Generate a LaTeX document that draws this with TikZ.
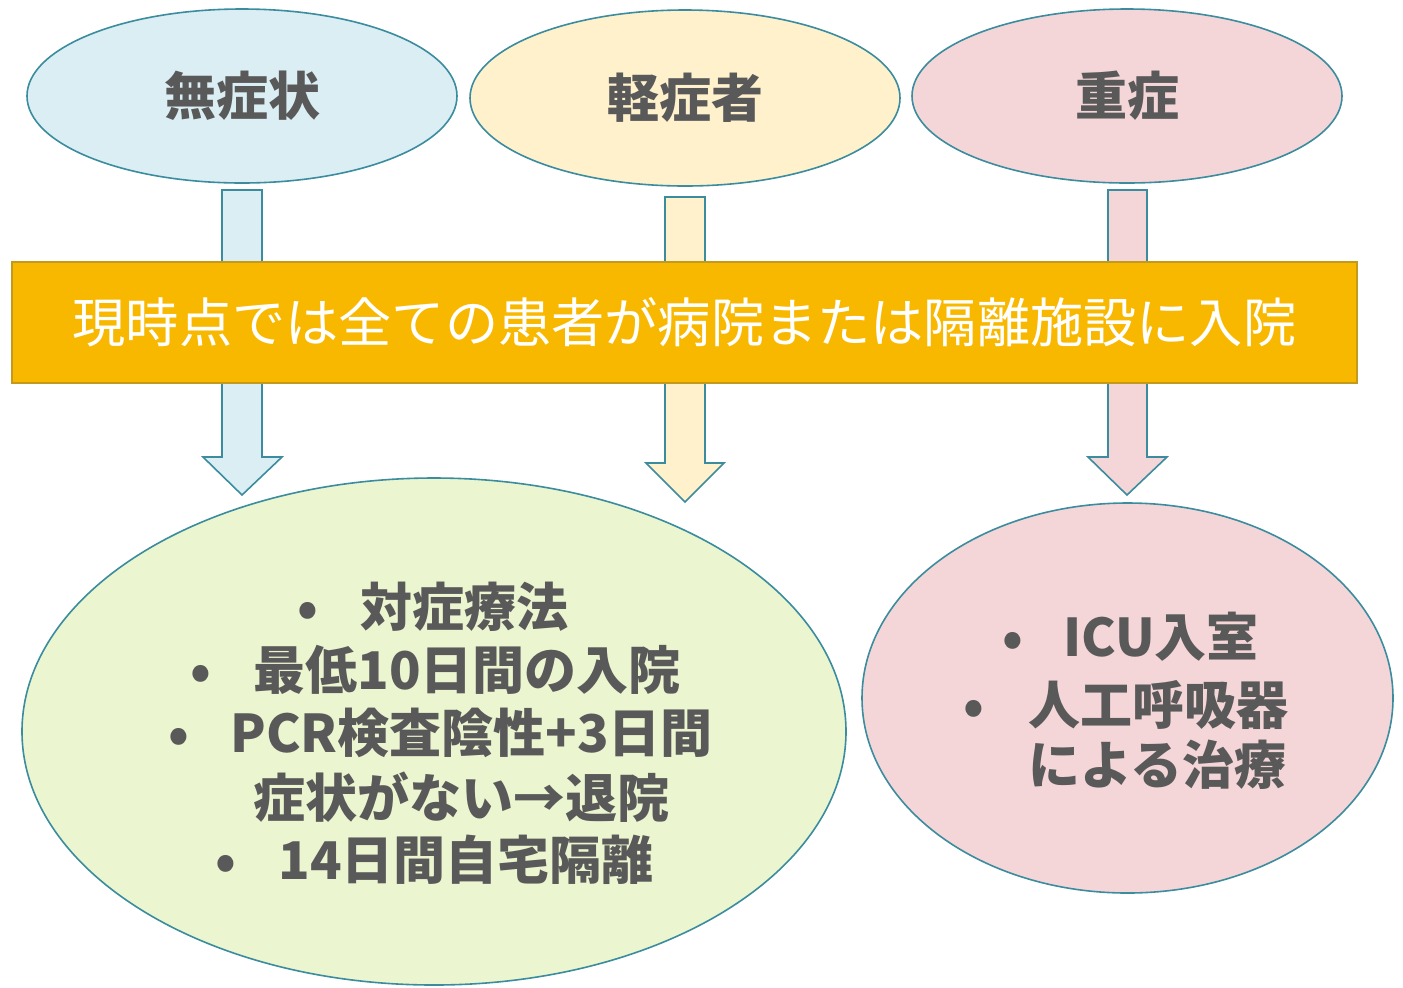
\documentclass[tikz,border=0pt]{standalone}
\usepackage{fontspec}
\setmainfont{Noto Sans CJK JP}
\usetikzlibrary{shapes.geometric}
\definecolor{bluefill}{HTML}{DAEEF3}
\definecolor{yellowfill}{HTML}{FEF1CC}
\definecolor{pinkfill}{HTML}{F5D6D8}
\definecolor{greenfill}{HTML}{EBF5D0}
\definecolor{tealline}{HTML}{3A8C9E}
\definecolor{bannerfill}{HTML}{F9B800}
\definecolor{bannerline}{HTML}{C39A1A}
\definecolor{txtgray}{HTML}{595959}
\begin{document}
\begin{tikzpicture}[x=0.5pt,y=-0.5pt,
  oval/.style={ellipse, draw=tealline, line width=0.8pt, inner sep=0pt},
  head/.style={font=\fontsize{26pt}{31pt}\selectfont\bfseries, text=txtgray},
  blockarr/.style={draw=tealline, line width=0.8pt, line join=miter},
  item/.style={anchor=west, inner sep=0pt, font=\fontsize{26pt}{31pt}\selectfont\bfseries, text=txtgray},
  banner/.style={rectangle, draw=bannerline, fill=bannerfill, line width=0.8pt, inner sep=0pt,
    minimum width=672.5pt, minimum height=60.5pt, text=white, font=\fontsize{26.6pt}{31pt}\selectfont}
]
\useasboundingbox (0,0) rectangle (1403,987);

% block arrows (behind the banner)
\draw[blockarr, fill=bluefill] (222,190) -- (262,190) -- (262,457) -- (282,457) -- (242,495) -- (203,457) -- (222,457) -- cycle;
\draw[blockarr, fill=yellowfill] (665,197) -- (705,197) -- (705,463) -- (724,463) -- (685,502) -- (646,463) -- (665,463) -- cycle;
\draw[blockarr, fill=pinkfill] (1108,190) -- (1147,190) -- (1147,457) -- (1167,457) -- (1127,495) -- (1088,457) -- (1108,457) -- cycle;

% top ellipses
\node[oval, fill=bluefill, minimum width=215pt, minimum height=87pt, head] (e1) at (242,96) {無症状};
\node[oval, fill=yellowfill, minimum width=215pt, minimum height=88pt, head] (e2) at (685,98) {軽症者};
\node[oval, fill=pinkfill, minimum width=215pt, minimum height=87pt, head] (e3) at (1127,96) {重症};

% banner
\node[banner] (band) at (684.5,322.5) {現時点では全ての患者が病院または隔離施設に入院};

% bottom ellipses
\node[oval, fill=greenfill, minimum width=412pt, minimum height=253.5pt] (b1) at (434,731.5) {};
\node[oval, fill=pinkfill, minimum width=265.5pt, minimum height=195pt] (b2) at (1127.5,698) {};

% bottom-left text
\node[item] (l1) at (307,607) {\makebox[0pt]{•}\hspace{26.5pt}対症療法};
\node[item] (l2) at (200,670) {\makebox[0pt]{•}\hspace{26.5pt}最低10日間の入院};
\node[item] (l3) at (178,733) {\makebox[0pt]{•}\hspace{26pt}PCR検査陰性+3日間};
\node[item] (l4) at (253,797) {症状がない→退院};
\node[item] (l5) at (225,860) {\makebox[0pt]{•}\hspace{26.5pt}14日間自宅隔離};

% bottom-right text
\node[item] (r1) at (1012,637) {\makebox[0pt]{•}\hspace{25.5pt}ICU入室};
\node[item] (r2) at (973,705) {\makebox[0pt]{•}\hspace{27.5pt}人工呼吸器};
\node[item] (r3) at (1028,765) {による治療};
\end{tikzpicture}
\end{document}
